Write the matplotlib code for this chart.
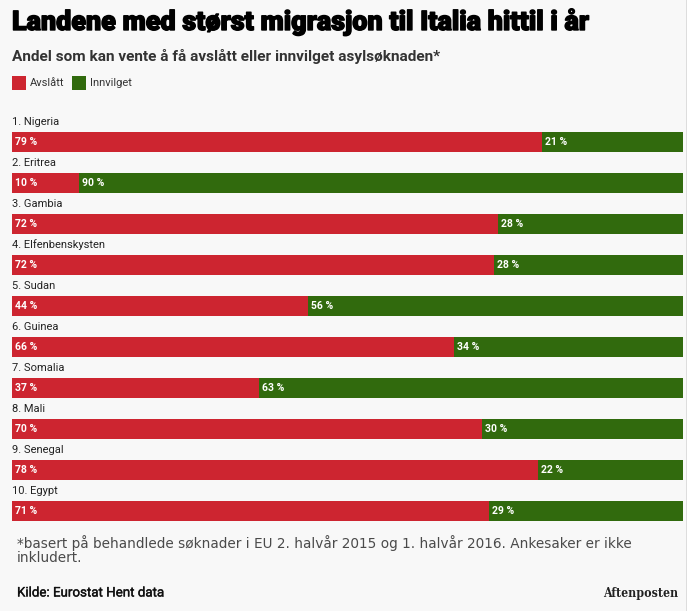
import matplotlib
matplotlib.use("Agg")
import matplotlib.pyplot as plt
from matplotlib.patches import Rectangle
import matplotlib.patheffects as pe

# --- data ---
countries = ["1. Nigeria", "2. Eritrea", "3. Gambia", "4. Elfenbenskysten", "5. Sudan",
             "6. Guinea", "7. Somalia", "8. Mali", "9. Senegal", "10. Egypt"]
avslatt = [79.0, 10.0, 72.4, 71.8, 44.1, 65.9, 36.8, 70.0, 78.4, 71.1]
avslatt_labels = ["79 %", "10 %", "72 %", "72 %", "44 %", "66 %", "37 %", "70 %", "78 %", "71 %"]
innvilget_labels = ["21 %", "90 %", "28 %", "28 %", "56 %", "34 %", "63 %", "30 %", "22 %", "29 %"]

RED = "#cd2530"
GREEN = "#316a0d"
BG = "#f8f8f8"
W, H = 691, 611

plt.rcParams['font.family'] = ['Roboto', 'DejaVu Sans']

fig = plt.figure(figsize=(W / 100, H / 100), dpi=100, facecolor=BG)


def px(x, y):
    return x / W, 1 - y / H


# bars: first one 132-152 px, row step 41 px
ax = fig.add_axes([12 / W, 1 - 522 / H, 671 / W, (522 - 131) / H])
ax.set_facecolor("none")
y = list(range(len(countries)))
innvilget = [100 - v for v in avslatt]
ax.barh(y, avslatt, height=20 / 41, color=RED)
ax.barh(y, innvilget, left=avslatt, height=20 / 41, color=GREEN)
ax.set_xlim(0, 100)
ax.set_ylim(9.268, -0.268)
ax.axis("off")

for i, name in enumerate(countries):
    ax.annotate(name, (0, i), xytext=(0, 11), textcoords="offset points", fontsize=8,
                color="#222222", va="bottom", ha="left", fontstretch="condensed")
    ax.annotate(avslatt_labels[i], (0, i), xytext=(2.2, 0), textcoords="offset points",
                fontsize=7.5, fontweight="bold", color="white", va="center")
    ax.annotate(innvilget_labels[i], (avslatt[i], i), xytext=(2.2, 0), textcoords="offset points",
                fontsize=7.5, fontweight="bold", color="white", va="center")

# header
tx, ty = px(12, 22)
fig.text(tx, ty, "Landene med størst migrasjon til Italia hittil i år", fontsize=19.4,
         fontweight="black", color="black", va="center", family=['Roboto', 'DejaVu Sans'],
         path_effects=[pe.withStroke(linewidth=1.0, foreground="black")])
tx, ty = px(12, 56.5)
fig.text(tx, ty, "Andel som kan vente å få avslått eller innvilget asylsøknaden*", fontsize=11.1,
         fontweight="bold", color="#333333", va="center")

# legend
for x0, col, lab, xt in [(12, RED, "Avslått", 30), (72, GREEN, "Innvilget", 90)]:
    fig.patches.append(Rectangle((x0 / W, 1 - 90 / H), 14 / W, 14 / H, transform=fig.transFigure,
                                 facecolor=col, edgecolor="none"))
    tx, ty = px(xt, 83)
    fig.text(tx, ty, lab, fontsize=8, color="#333333", va="center")

# footnote
tx, ty = px(17, 543)
fig.text(tx, ty, "*basert på behandlede søknader i EU 2. halvår 2015 og 1. halvår 2016. Ankesaker er ikke",
         fontsize=9.8, color="#4a4a4a", va="center", family=['DejaVu Sans'])
tx, ty = px(17, 558)
fig.text(tx, ty, "inkludert.", fontsize=9.8, color="#4a4a4a", va="center", family=['DejaVu Sans'])

tx, ty = px(17, 593)
fig.text(tx, ty, "Kilde: Eurostat Hent data", fontsize=9.6, color="#111111", va="center",
         path_effects=[pe.withStroke(linewidth=0.25, foreground="#111111")])

tx, ty = px(678, 593)
fig.text(tx, ty, "Aftenposten", fontsize=8.8, color="#222222", va="center", ha="right",
         family=['DejaVu Serif'], fontweight="bold", fontstretch="condensed")

# scrollbar edge on the right of the screenshot
fig.patches.append(Rectangle((686 / W, 0), 5 / W, 1, transform=fig.transFigure,
                             facecolor="white", edgecolor="none"))
fig.patches.append(Rectangle((686 / W, 0), 1 / W, 1, transform=fig.transFigure,
                             facecolor="#dddddd", edgecolor="none"))

fig.savefig("out.png", dpi=100, facecolor=BG)
